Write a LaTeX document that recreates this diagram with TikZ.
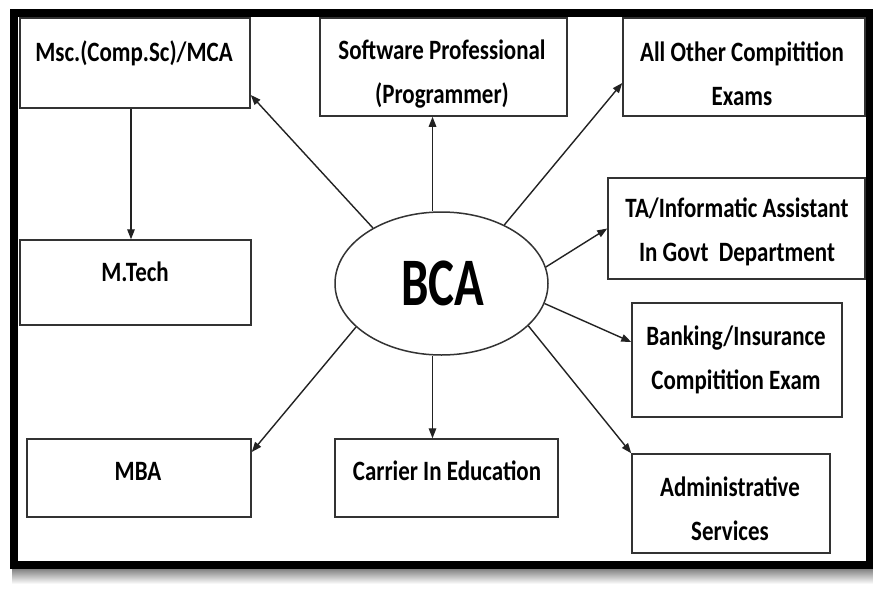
\documentclass[tikz,border=0pt]{standalone}
\usepackage{fontspec}
\setmainfont{Carlito}[FakeStretch=0.82]
\newfontfamily\bcafont{Carlito}[FakeStretch=0.72]
\usetikzlibrary{arrows.meta,shapes.geometric}
\definecolor{boxline}{HTML}{333333}
\definecolor{arrline}{HTML}{222222}
\tikzset{
  box/.style={draw=boxline,line width=1.5pt,rectangle,inner sep=0pt,fill=white},
  txt/.style={anchor=base,align=center,inner sep=0pt,text=black,
    font=\bfseries\fontsize{28}{44}\selectfont},
  arr/.style={draw=arrline,line width=1.4pt,-{Triangle[length=10pt,width=7.5pt]}},
  frame/.style={draw=black,line width=8pt}
}
\begin{document}
\begin{tikzpicture}[x=1pt,y=-1pt]
\useasboundingbox (0,0) rectangle (873,590);
% shadow
\shade[top color=black!55,bottom color=white] (12,567) rectangle (873,584);
\draw[frame,fill=white] (14,13) rectangle (870,565);
% boxes
\node[box,minimum width=230pt,minimum height=90pt] (msc) at (135,63) {};
\node[box,minimum width=247pt,minimum height=98pt] (sw) at (443.5,67) {};
\node[box,minimum width=242pt,minimum height=98pt] (ao) at (744,67) {};
\node[box,minimum width=257pt,minimum height=101pt] (ta) at (736.5,228.5) {};
\node[box,minimum width=231pt,minimum height=85pt] (mt) at (135.5,282.5) {};
\node[box,minimum width=224pt,minimum height=78pt] (mba) at (139,478) {};
\node[box,minimum width=223pt,minimum height=78pt] (car) at (446.5,478) {};
\node[box,minimum width=210pt,minimum height=114pt] (bank) at (737,360) {};
\node[box,minimum width=198pt,minimum height=99pt] (adm) at (731,503.5) {};
% texts (base anchor = baseline of the last line)
\node[txt] (msct) at (134,61) {Msc.(Comp.Sc)/MCA};
\node[txt] (swt) at (442,103) {Software Professional\\(Programmer)};
\node[txt] (aot) at (742,105) {All Other Compitition\\Exams};
\node[txt] (tat) at (737,261) {TA/Informatic Assistant\\In Govt\ \ Department};
\node[txt] (mtt) at (135,281) {M.Tech};
\node[txt] (mbat) at (138,480) {MBA};
\node[txt] (cart) at (447,480) {Carrier In Education};
\node[txt] (bankt) at (736,389) {Banking/Insurance\\Compitition Exam};
\node[txt] (admt) at (730,540) {Administrative\\Services};
% ellipse
\node[ellipse,draw=boxline,line width=1.5pt,minimum width=213pt,minimum height=143pt,inner sep=0pt] (bca) at (441.5,283.5) {};
\node[anchor=base,inner sep=0pt,font=\bcafont\bfseries\fontsize{68}{68}\selectfont] (bcat) at (443,305) {BCA};
% connectors
\coordinate (swx) at ([xshift=-9pt]bca.north);
\coordinate (cax) at ([xshift=-9pt]bca.south);
\coordinate (mx) at ([xshift=-4pt]msc.south);
\draw[arr] (bca.141) -- ([yshift=-32pt]msc.east);
\draw[arr] (swx) -- (swx |- sw.south);
\draw[arr] (bca.43) -- ([yshift=-16pt]ao.west);
\draw[arr] (bca.9.5) -- (ta.west);
\draw[arr] (bca.-11.5) -- ([yshift=18pt]bank.west);
\draw[arr] (bca.-26) -- (adm.north west);
\draw[arr] (cax) -- (cax |- car.north);
\draw[arr] (bca.207.6) -- ([yshift=26pt]mba.east);
\draw[arr] (mx) -- (mx |- mt.north);
\end{tikzpicture}
\end{document}
